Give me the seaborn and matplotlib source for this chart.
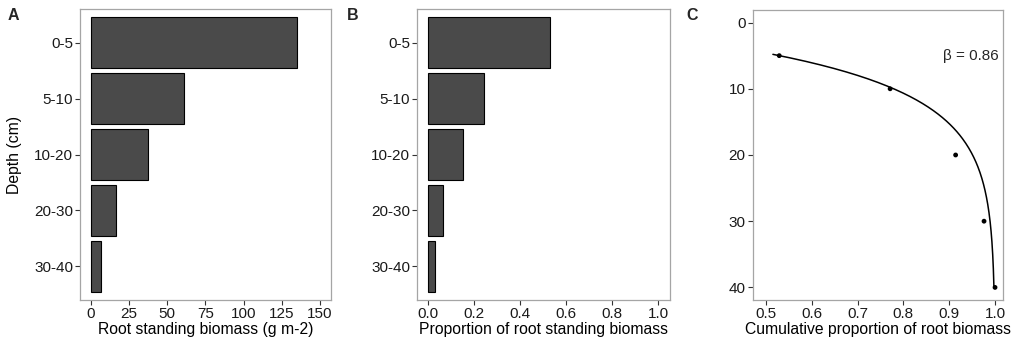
import numpy as np
import pandas as pd
import matplotlib
matplotlib.use("Agg")
import matplotlib.pyplot as plt
import seaborn as sns

# Root biomass by soil depth layer
depth_layers = ["0-5", "5-10", "10-20", "20-30", "30-40"]
biomass = [135.0, 61.0, 37.3, 16.2, 6.5]
proportion = [0.529, 0.242, 0.149, 0.065, 0.028]

# Cumulative proportion at the bottom of each layer
layer_bottom = [5, 10, 20, 30, 40]
cum_proportion = [0.529, 0.771, 0.914, 0.976, 1.0]

# Fitted extinction coefficient (Y = 1 - beta^d)
beta = 0.86

sns.set_theme(style="white")
plt.rcParams["font.family"] = ["Liberation Sans", "DejaVu Sans"]

df = pd.DataFrame({"depth": depth_layers, "biomass": biomass, "prop": proportion})
df_cum = pd.DataFrame({"d": layer_bottom, "cum": cum_proportion})

fig = plt.figure(figsize=(10.2, 3.43), dpi=100)
ax_a = fig.add_axes([0.0784, 0.1254, 0.2461, 0.848])
ax_b = fig.add_axes([0.4091, 0.1254, 0.2477, 0.848])
ax_c = fig.add_axes([0.7379, 0.1254, 0.2457, 0.8455])

bar_fill = "#4a4a4a"
spine_col = "#a5a5a5"
tick_col = "#333333"
lab_size = 11.3
tick_size = 11

sns.barplot(data=df, x="biomass", y="depth", orient="h", ax=ax_a,
            color=bar_fill, saturation=1, width=0.92,
            edgecolor="black", linewidth=0.8)
sns.barplot(data=df, x="prop", y="depth", orient="h", ax=ax_b,
            color=bar_fill, saturation=1, width=0.92,
            edgecolor="black", linewidth=0.8)

ax_a.set_xlim(-7.2, 157.2)
ax_a.set_xticks([0, 25, 50, 75, 100, 125, 150])
ax_a.set_xlabel("Root standing biomass (g m-2)", fontsize=lab_size, color="black", labelpad=1)
ax_a.set_ylabel("Depth (cm)", fontsize=lab_size, color="black", labelpad=9)

ax_b.set_xlim(-0.048, 1.052)
ax_b.set_xticks([0.0, 0.2, 0.4, 0.6, 0.8, 1.0])
ax_b.set_xticklabels(["0.0", "0.2", "0.4", "0.6", "0.8", "1.0"])
ax_b.set_xlabel("Proportion of root standing biomass", fontsize=lab_size, color="black", labelpad=1)
ax_b.set_ylabel("")

for ax in (ax_a, ax_b):
    ax.set_ylim(4.6, -0.6)

# Fitted curve and observed points
d_fit = np.linspace(4.8, 40, 200)
fit_df = pd.DataFrame({"d": d_fit, "cum": 1 - beta ** d_fit})
sns.lineplot(data=fit_df, x="cum", y="d", ax=ax_c, color="black", linewidth=1.1,
             sort=False, estimator=None)
sns.scatterplot(data=df_cum, x="cum", y="d", ax=ax_c, color="black", s=12,
                edgecolor="none", zorder=3)
ax_c.set_xlim(0.471, 1.018)
ax_c.set_ylim(41.9, -1.9)
ax_c.set_xticks([0.5, 0.6, 0.7, 0.8, 0.9, 1.0])
ax_c.set_xticklabels(["0.5", "0.6", "0.7", "0.8", "0.9", "1.0"])
ax_c.set_yticks([0, 10, 20, 30, 40])
ax_c.set_xlabel("Cumulative proportion of root biomass", fontsize=lab_size, color="black", labelpad=1)
ax_c.set_ylabel("")
ax_c.text(0.948, 5.0, "\u03b2 = 0.86", fontsize=11, ha="center", va="center")

for ax in (ax_a, ax_b, ax_c):
    for s in ax.spines.values():
        s.set_color(spine_col)
        s.set_linewidth(0.9)
    ax.tick_params(axis="both", which="both", direction="out", length=3.5, width=0.8,
                   color=tick_col, labelsize=tick_size, labelcolor="#1a1a1a", pad=1.5,
                   bottom=True, left=True)
    ax.grid(False)

for x, lab in [(0.007, "A"), (0.34, "B"), (0.673, "C")]:
    fig.text(x, 0.955, lab, fontsize=11.5, fontweight="bold", ha="left", va="center")

fig.savefig("out.png", dpi=100)
